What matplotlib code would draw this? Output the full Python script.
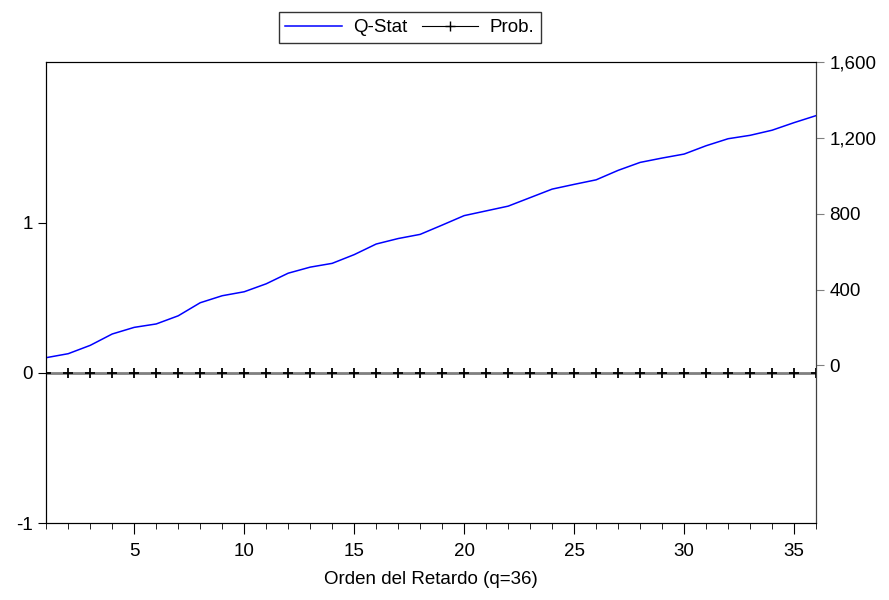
import matplotlib.pyplot as plt
from matplotlib.lines import Line2D
import numpy as np

plt.rcParams["font.family"] = ["Liberation Sans", "DejaVu Sans"]

# Correlogram statistics by lag
lags = np.arange(1, 37)
q_stat = [41, 62, 106, 166, 201, 219, 262, 331, 368, 389, 431, 487,
          519, 539, 585, 641, 670, 692, 741, 791, 816, 841, 886, 931,
          956, 980, 1030, 1072, 1095, 1116, 1160, 1197, 1215, 1242, 1282, 1319]
prob = [0.0] * 36

left_ticks = [-1, 0, 1]
right_ticks = [0, 400, 800, 1200, 1600]
x_ticks = [5, 10, 15, 20, 25, 30, 35]

fig = plt.figure(figsize=(8.89, 6), dpi=100)
ax = fig.add_axes([0.052, 0.128, 0.866, 0.768])
ax2 = ax.twinx()

# Prob. drawn on the zero line: grey line, black crosses
ax.plot(lags, prob, color="#808080", linewidth=2, marker="+",
        markersize=7, markeredgewidth=1.3, markeredgecolor="black", zorder=3)
ax2.plot(lags, q_stat, color="#0000ff", linewidth=1.1)

ax.set_xlim(1, 36)
ax.set_ylim(-1, 2.067)
ax2.set_ylim(-833, 1600)

ax.set_yticks(left_ticks)
ax.set_yticklabels([str(t) for t in left_ticks])
ax2.set_yticks(right_ticks)
ax2.set_yticklabels([f"{t:,}" for t in right_ticks])

ax.set_xticks(x_ticks)
ax.set_xticks(lags, minor=True)
ax.tick_params(axis="x", which="major", direction="out", length=8, labelsize=13.5, pad=6)
ax.tick_params(axis="x", which="minor", direction="out", length=4)
ax.tick_params(axis="y", direction="out", length=6, labelsize=13.5)
ax2.tick_params(axis="y", direction="out", length=6, labelsize=13.5, color="#808080")

ax2.spines["right"].set_color("#404040")

ax.set_xlabel("Orden del Retardo (q=36)", fontsize=13.5, labelpad=8)

h1 = Line2D([], [], color="#0000ff", linewidth=1.1)
h2 = Line2D([], [], color="black", linewidth=0.8, marker="+", markersize=7)
fig.legend(handles=[h1, h2], labels=["Q-Stat", "Prob."], loc="upper center",
           bbox_to_anchor=(0.461, 0.995), ncol=2, frameon=True, fancybox=False,
           edgecolor="black", fontsize=13.5, handlelength=3.0, columnspacing=0.8,
           borderpad=0.35, handletextpad=0.6)

fig.savefig("out.png", dpi=100)
